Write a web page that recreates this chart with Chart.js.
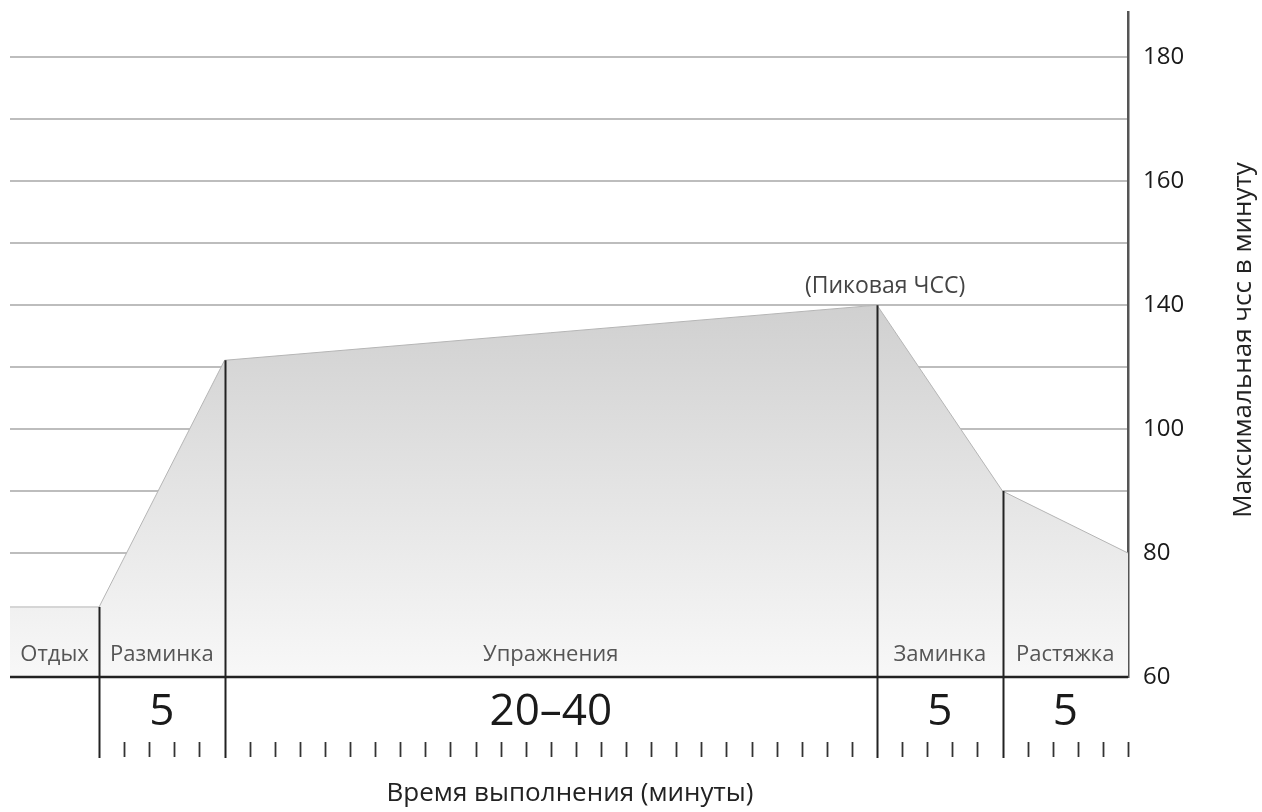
<!DOCTYPE html>
<html>
<head>
<meta charset="utf-8">
<script src="https://cdn.jsdelivr.net/npm/chart.js@4/dist/chart.umd.min.js"></script>
<style>
    body { margin: 0; background: #fff; }
    #wrap { width: 1262px; height: 812px; position: relative; }
</style>
</head>
<body>
<div id="wrap"><canvas id="hrChart"></canvas></div>
<script>
// Этапы тренировки
const stageNames = ['Отдых', 'Разминка', 'Упражнения', 'Заминка', 'Растяжка'];
const stageMinutes = ['', '5', '20–40', '5', '5'];
const stageStart = [-3.55, 0, 5, 31, 36];
const stageEnd = [0, 5, 31, 36, 41];

// Кривая ЧСС (в делениях шкалы)
const hrX = [-3.55, 0, 5, 31, 36, 41];
const hrY = [71.3, 71.3, 111.1, 120, 90, 80];
const peakIndex = 3;

// Шкала Y
const gridValues = [60, 70, 80, 90, 100, 110, 120, 130, 140, 150, 160];
const yTickValues = [60, 80, 100, 120, 140, 160];
const yTickLabels = ['60', '80', '100', '140', '160', '180'];

const peakLabel = '(Пиковая ЧСС)';
const xTitle = 'Время выполнения (минуты)';
const yTitle = 'Максимальная чсс в минуту';

const FONT = '"Open Sans", "Noto Sans", sans-serif';

// Рисуем подписи, деления и вертикальные линии
const workoutPlugin = {
    id: 'workout',
    afterDraw(chart) {
        const { ctx, chartArea, scales } = chart;
        const x = scales.x, y = scales.y;
        const bottom = chartArea.bottom;
        ctx.save();

        // ось X
        ctx.strokeStyle = '#222';
        ctx.lineWidth = 2.5;
        ctx.beginPath();
        ctx.moveTo(chartArea.left, bottom);
        ctx.lineTo(chartArea.right, bottom);
        ctx.stroke();

        // границы этапов
        ctx.lineWidth = 2;
        for (let i = 1; i <= 4; i++) {
            const px = Math.round(x.getPixelForValue(hrX[i])) + 0.5;
            ctx.beginPath();
            ctx.moveTo(px, y.getPixelForValue(hrY[i]));
            ctx.lineTo(px, bottom + 81);
            ctx.stroke();
        }

        // минутные деления
        ctx.lineWidth = 1.8;
        ctx.strokeStyle = '#333';
        for (let m = 1; m <= stageEnd[4]; m++) {
            if (stageStart.includes(m)) continue;
            const px = Math.round(x.getPixelForValue(m)) + 0.5;
            ctx.beginPath();
            ctx.moveTo(px, bottom + 65);
            ctx.lineTo(px, bottom + 80);
            ctx.stroke();
        }

        // названия этапов и длительность
        ctx.textAlign = 'center';
        ctx.textBaseline = 'middle';
        stageNames.forEach((name, i) => {
            const cx = (x.getPixelForValue(stageStart[i]) + x.getPixelForValue(stageEnd[i])) / 2;
            ctx.fillStyle = '#555';
            ctx.font = '22px ' + FONT;
            ctx.fillText(name, cx, bottom - 22);
            ctx.fillStyle = '#1a1a1a';
            ctx.font = '44px ' + FONT;
            ctx.fillText(stageMinutes[i], cx, bottom + 35);
        });

        // пиковая ЧСС
        ctx.fillStyle = '#444';
        ctx.font = '23px ' + FONT;
        ctx.fillText(peakLabel, x.getPixelForValue(hrX[peakIndex]) + 8, y.getPixelForValue(hrY[peakIndex]) - 19);

        // подпись оси X
        ctx.fillStyle = '#222';
        ctx.font = '26px ' + FONT;
        ctx.fillText(xTitle, (chartArea.left + chartArea.right) / 2 + 1, bottom + 117);

        // подпись оси Y
        ctx.translate(1244, 340);
        ctx.rotate(-Math.PI / 2);
        ctx.font = '26px ' + FONT;
        ctx.fillText(yTitle, 0, 0);
        ctx.restore();
    }
};

const chartCtx = document.getElementById('hrChart').getContext('2d');
const hrChart = new Chart(chartCtx, {
    type: 'line',
    data: {
        datasets: [{
            data: hrX.map((v, i) => ({ x: v, y: hrY[i] })),
            borderColor: '#b5b5b5',
            borderWidth: 1,
            pointRadius: 0,
            tension: 0,
            fill: 'start',
            backgroundColor: (c) => {
                const { chart } = c;
                const area = chart.chartArea;
                if (!area) return '#e5e5e5';
                const g = chart.ctx.createLinearGradient(0, chart.scales.y.getPixelForValue(120), 0, area.bottom);
                g.addColorStop(0, '#d0d0d0');
                g.addColorStop(1, '#f8f8f8');
                return g;
            }
        }]
    },
    options: {
        responsive: true,
        maintainAspectRatio: false,
        animation: false,
        layout: { padding: { left: 10, top: 12, right: 0, bottom: 135 } },
        plugins: {
            legend: { display: false },
            tooltip: { enabled: false }
        },
        scales: {
            x: {
                type: 'linear',
                min: stageStart[0],
                max: stageEnd[4],
                display: false
            },
            y: {
                position: 'right',
                min: 60,
                max: 167.3,
                z: 1,
                afterBuildTicks: (scale) => {
                    scale.ticks = gridValues.map(v => ({ value: v }));
                },
                afterFit: (scale) => {
                    scale.width = 134;
                    scale.paddingTop = 0;
                    scale.paddingBottom = 0;
                },
                grid: { color: '#bdbdbd', lineWidth: 2, drawTicks: false },
                border: { color: '#555', width: 2.5 },
                ticks: {
                    padding: 15,
                    color: '#1a1a1a',
                    font: { family: FONT, size: 24 },
                    callback: (value) => {
                        const k = yTickValues.indexOf(value);
                        return k >= 0 ? yTickLabels[k] : '';
                    }
                }
            }
        }
    },
    plugins: [workoutPlugin]
});
</script>
</body>
</html>
